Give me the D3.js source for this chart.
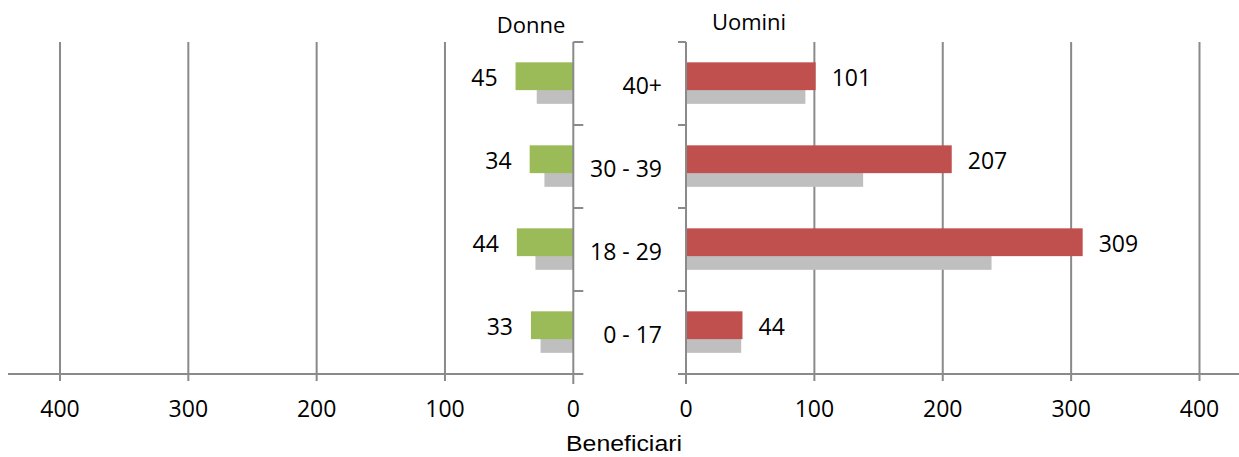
<!DOCTYPE html>
<html><head><meta charset="utf-8">
<script src="https://cdn.jsdelivr.net/npm/d3@7/dist/d3.min.js"></script>
<style>
body{margin:0;background:#fff;}
text{font-family:"Open Sans","Liberation Sans",sans-serif;fill:#000;}
</style></head>
<body><svg id="c" width="1239" height="457"></svg>
<script>
const categories = ["40+", "30 - 39", "18 - 29", "0 - 17"];
const donne = [45, 34, 44, 33];
const donnePrev = [28.5, 22.5, 29.5, 25.5];
const uomini = [101, 207, 309, 44];
const uominiPrev = [93, 138, 238, 43];
const tickValues = [0, 100, 200, 300, 400];

(function () {
const svg = d3.select("#c");
const yTop = 42, yBot = 374;
const xL = d3.scaleLinear([0, 400], [573.3, 60]);
const xR = d3.scaleLinear([0, 400], [686, 1199.5]);
const y = d3.scaleBand(categories, [yTop, yBot]).padding(0);
const bw = y.bandwidth();
const axisCol = "#8a8a8a";
const fs = 23;

// gridlines
const g = svg.append("g");
tickValues.filter(v => v > 0).forEach(v => {
  g.append("line").attr("x1", xL(v)).attr("x2", xL(v)).attr("y1", yTop).attr("y2", yBot + 7)
    .attr("stroke", axisCol).attr("stroke-width", 2);
  g.append("line").attr("x1", xR(v)).attr("x2", xR(v)).attr("y1", yTop).attr("y2", yBot + 7)
    .attr("stroke", axisCol).attr("stroke-width", 2);
});

// bars
const bars = svg.append("g");
bars.selectAll(".gl").data(categories).join("rect")
  .attr("x", (d, i) => xL(donnePrev[i])).attr("width", (d, i) => xL(0) - xL(donnePrev[i]))
  .attr("y", d => y(d) + 0.41 * bw).attr("height", 0.335 * bw).attr("fill", "#bfbfbf");
bars.selectAll(".dl").data(categories).join("rect")
  .attr("x", (d, i) => xL(donne[i])).attr("width", (d, i) => xL(0) - xL(donne[i]))
  .attr("y", d => y(d) + 0.245 * bw).attr("height", 0.335 * bw).attr("fill", "#9bbb59");
bars.selectAll(".gr").data(categories).join("rect")
  .attr("x", xR(0)).attr("width", (d, i) => xR(uominiPrev[i]) - xR(0))
  .attr("y", d => y(d) + 0.41 * bw).attr("height", 0.335 * bw).attr("fill", "#bfbfbf");
bars.selectAll(".ur").data(categories).join("rect")
  .attr("x", xR(0)).attr("width", (d, i) => xR(uomini[i]) - xR(0))
  .attr("y", d => y(d) + 0.245 * bw).attr("height", 0.335 * bw).attr("fill", "#c0504d");

// value labels
const vl = svg.append("g").attr("font-size", fs);
vl.selectAll(".a").data(categories).join("text")
  .attr("x", (d, i) => xL(donne[i]) - 18).attr("y", d => y(d) + 0.41 * bw + 1.5)
  .attr("dy", "0.35em").attr("text-anchor", "end").text((d, i) => donne[i]);
vl.selectAll(".b").data(categories).join("text")
  .attr("x", (d, i) => xR(uomini[i]) + 16).attr("y", d => y(d) + 0.41 * bw + 1.5)
  .attr("dy", "0.35em").attr("text-anchor", "start").text((d, i) => uomini[i]);

// category labels
svg.append("g").attr("font-size", fs).selectAll("text").data(categories).join("text")
  .attr("x", 662).attr("y", d => y(d) + bw / 2 + 2).attr("dy", "0.35em")
  .attr("text-anchor", "end").text(d => d);

// vertical axes
const ax = svg.append("g").attr("stroke", axisCol).attr("stroke-width", 2);
ax.append("line").attr("x1", xL(0)).attr("x2", xL(0)).attr("y1", yTop).attr("y2", yBot + 10);
ax.append("line").attr("x1", xR(0)).attr("x2", xR(0)).attr("y1", yTop).attr("y2", yBot + 10);
categories.forEach(d => {
  const b = y(d);
  ax.append("line").attr("x1", xL(0)).attr("x2", xL(0) + 10).attr("y1", b).attr("y2", b);
  ax.append("line").attr("x1", xR(0) - 8).attr("x2", xR(0)).attr("y1", b).attr("y2", b);
});
// horizontal axes
ax.append("line").attr("x1", 8).attr("x2", xL(0) + 10).attr("y1", yBot).attr("y2", yBot);
ax.append("line").attr("x1", xR(0) - 8).attr("x2", 1239).attr("y1", yBot).attr("y2", yBot);

// tick labels
const tl = svg.append("g").attr("font-size", fs);
tl.selectAll(".l").data(tickValues).join("text").attr("x", d => xL(d)).attr("y", 408.5)
  .attr("dy", "0.35em").attr("text-anchor", "middle").text(d => d);
tl.selectAll(".r").data(tickValues).join("text").attr("x", d => xR(d)).attr("y", 408.5)
  .attr("dy", "0.35em").attr("text-anchor", "middle").text(d => d);

// titles
svg.append("text").attr("x", 531).attr("y", 33).attr("text-anchor", "middle")
  .attr("font-size", 22).text("Donne");
svg.append("text").attr("x", 749).attr("y", 30).attr("text-anchor", "middle")
  .attr("font-size", 22).text("Uomini");
svg.append("text").attr("x", 624).attr("y", 451).attr("text-anchor", "middle")
  .style("font-family", "'Liberation Sans',Arial,sans-serif")
  .attr("font-size", 22).attr("textLength", 116).attr("lengthAdjust", "spacingAndGlyphs")
  .text("Beneficiari");
})();
</script></body></html>
